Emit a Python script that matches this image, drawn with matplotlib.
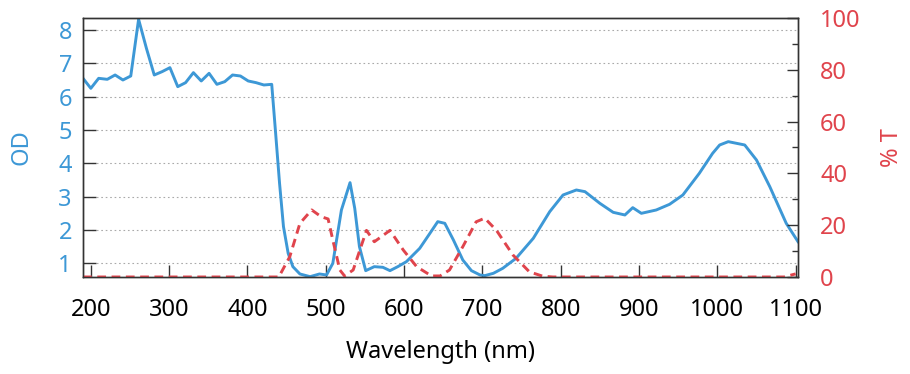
import matplotlib.pyplot as plt
import numpy as np

# OD curve (blue, left axis)
wl_od = [190, 200, 210, 221, 231, 241, 251, 261, 271, 281, 291, 301, 311, 321,
         331, 341, 351, 361, 371, 381, 391, 401, 411, 421, 431, 436, 441, 446,
         452, 458, 467, 480, 492, 501, 509, 520, 531, 537, 543, 551, 562, 573,
         582, 592, 603, 620, 633, 643, 652, 663, 675, 686, 697, 703, 714, 726,
         743, 765, 786, 803, 820, 831, 850, 867, 882, 892, 903, 922, 939, 956,
         977, 994, 1003, 1014, 1035, 1050, 1067, 1088, 1103]
od = [6.55, 6.25, 6.55, 6.52, 6.65, 6.5, 6.62, 8.32, 7.45, 6.65, 6.75, 6.87, 6.3,
      6.42, 6.72, 6.47, 6.7, 6.37, 6.45, 6.65, 6.62, 6.47, 6.42, 6.35, 6.37, 4.9,
      3.4, 2.1, 1.3, 0.9, 0.68, 0.6, 0.68, 0.65, 1.0, 2.6, 3.42, 2.65, 1.5, 0.78,
      0.9, 0.88, 0.78, 0.9, 1.05, 1.45, 1.9, 2.25, 2.2, 1.7, 1.1, 0.78, 0.65,
      0.63, 0.7, 0.85, 1.15, 1.75, 2.55, 3.05, 3.2, 3.15, 2.8, 2.53, 2.45, 2.67,
      2.5, 2.6, 2.77, 3.05, 3.7, 4.3, 4.55, 4.65, 4.55, 4.1, 3.3, 2.2, 1.65]

# transmission curve (red dashed, right axis)
wl_t = [190, 440, 454, 467, 482, 494, 503, 509, 518, 524, 535, 545, 552, 562,
        582, 599, 616, 635, 646, 658, 675, 692, 703, 718, 739, 760, 777, 790,
        1085, 1100]
trans = [0, 0, 7.8, 20.7, 25.9, 23.3, 22.4, 14.3, 2.7, 0.4, 2.7, 11.7, 18, 13.6,
         18, 10.4, 4, 0.4, 0.4, 2.7, 11.7, 21.3, 22.7, 18, 8.5, 2, 0.3, 0,
         0, 1.2]

x_ticks = list(range(200, 1101, 100))
od_ticks = list(range(1, 9))
t_ticks = list(range(0, 101, 20))

BLUE = '#3d98d6'
RED = '#e0444c'
SPINE = '#333333'

plt.rcParams['font.family'] = ['Noto Sans', 'DejaVu Sans']

fig = plt.figure(figsize=(9.1, 3.74), dpi=100)
ax = fig.add_axes([0.0912, 0.2594, 0.7857, 0.6925])
ax2 = ax.twinx()

ax.plot(wl_od, od, color=BLUE, lw=2.1)
ax2.plot(wl_t, trans, color=RED, lw=2.1, linestyle=(0, (3.0, 1.9)))

ax.set_xlim(190, 1103)
ax.set_ylim(0.59, 8.36)
ax2.set_ylim(0, 100)

ax.set_xticks(x_ticks)
ax.set_yticks(od_ticks)
ax2.set_yticks(t_ticks)
ax2.set_yticks(range(10, 100, 20), minor=True)

ax.grid(axis='y', color='#aaaaaa', linestyle=(0, (1.5, 2.5)), lw=0.8)

ax.tick_params(axis='x', direction='in', length=9, width=1, color=SPINE,
               labelsize=17, pad=15, top=False)
ax.tick_params(axis='y', direction='in', length=9, width=1, color=SPINE,
               labelsize=17, labelcolor=BLUE, pad=8, right=False)
ax2.tick_params(axis='y', which='major', direction='in', length=8, width=1,
                color=SPINE, labelsize=17, labelcolor=RED, pad=16)
ax2.tick_params(axis='y', which='minor', direction='in', length=4, width=1,
                color=SPINE)

for a in (ax, ax2):
    for s in a.spines.values():
        s.set_color(SPINE)
        s.set_linewidth(1.0)

ax.set_xlabel('Wavelength (nm)', fontsize=17, labelpad=13)
ax.set_ylabel('OD', fontsize=17, color=BLUE, labelpad=18)
ax2.set_ylabel('% T', fontsize=17, color=RED, labelpad=14)

fig.savefig('out.png', dpi=100)
